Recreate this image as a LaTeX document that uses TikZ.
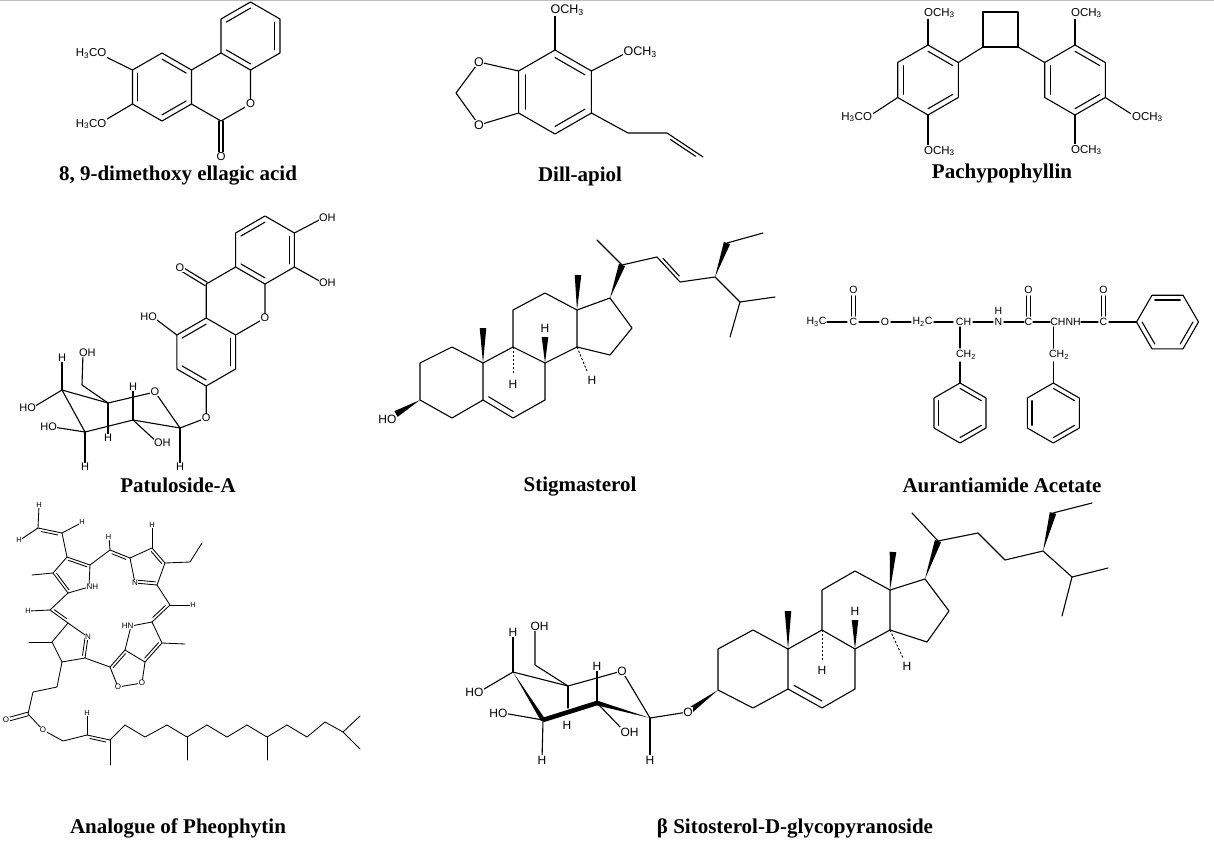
\documentclass[tikz,border=0pt]{standalone}
\usepackage{fontspec}
\setmainfont{Liberation Serif}
\newfontfamily\asf{Liberation Sans}
\usetikzlibrary{calc}
\newcommand{\inb}[3]{\draw ($(#1)!0.18!(#3)$) -- ($(#2)!0.18!(#3)$);}
\newcommand{\dbL}[3]{\draw ($(#1)!#3!90:(#2)$) -- ($(#2)!#3!-90:(#1)$);}
\newcommand{\dbR}[3]{\draw ($(#1)!#3!-90:(#2)$) -- ($(#2)!#3!90:(#1)$);}
\newcommand{\dsL}[3]{\coordinate (tmpa) at ($(#1)!0.15!(#2)$);\coordinate (tmpb) at ($(#2)!0.15!(#1)$);\draw ($(tmpa)!#3!90:(tmpb)$) -- ($(tmpb)!#3!-90:(tmpa)$);}
\newcommand{\dsR}[3]{\coordinate (tmpa) at ($(#1)!0.15!(#2)$);\coordinate (tmpb) at ($(#2)!0.15!(#1)$);\draw ($(tmpa)!#3!-90:(tmpb)$) -- ($(tmpb)!#3!90:(tmpa)$);}
\newcommand{\wdg}[3]{\fill (#1) -- ($(#2)!#3!90:(#1)$) -- ($(#2)!#3!-90:(#1)$) -- cycle;}
\newcommand{\hsh}[2]{\draw[line width=0.9pt,line cap=butt,dash pattern=on 2.2pt off 1.8pt] (#1) -- (#2);}
\tikzset{
  atm/.style={font=\asf\fontsize{#1}{#1}\selectfont, inner sep=0.6pt, fill=white},
  atn/.style={font=\asf\fontsize{#1}{#1}\selectfont, inner sep=0.6pt},
  ttl/.style={font=\bfseries\fontsize{21}{21}\selectfont, inner sep=0pt},
}
\begin{document}
\begin{tikzpicture}[x=1pt,y=-1pt,line width=1.1pt,line join=round,line cap=round]
\useasboundingbox (0,0) rectangle (1214,848);
\fill[white] (0,0) rectangle (1214,848);
\draw[black!25,line width=1.5pt,line cap=butt] (0,0.75) -- (1214,0.75);

% ================= 8,9-dimethoxy ellagic acid
\coordinate (e1) at (250.5,2); \coordinate (e2) at (280,19); \coordinate (e3) at (280,53);
\coordinate (e4) at (250.5,70); \coordinate (e5) at (221,53); \coordinate (e6) at (221,19);
\coordinate (ec1) at (250.5,36);
\coordinate (e7) at (250.5,104); \coordinate (e8) at (221,121); \coordinate (e9) at (191.5,104);
\coordinate (e10) at (191.5,70); \coordinate (e11) at (162,121); \coordinate (e12) at (132.5,104);
\coordinate (e13) at (132.5,70); \coordinate (e14) at (162,53); \coordinate (ec3) at (162,87);
\coordinate (e15) at (221,157);
\draw (e1)--(e2)--(e3)--(e4)--(e5)--(e6)--cycle;
\draw (e4)--(e7)--(e8)--(e9)--(e10)--(e5);
\draw (e10)--(e14)--(e13)--(e12)--(e11)--(e9);
\draw (e13)--(102,55); \draw (e12)--(102,122);
\inb{e1}{e6}{ec1} \inb{e2}{e3}{ec1} \inb{e4}{e5}{ec1}
\inb{e14}{e10}{ec3} \inb{e12}{e13}{ec3} \inb{e9}{e11}{ec3}
\dbL{e8}{e15}{2pt} \dbR{e8}{e15}{2pt}
\node[atm=11.5] (eO1) at (e7) {O};
\node[atm=11.5] (eO2) at (e15) {O};
\node[atm=11.5,anchor=east] (eM1) at (107.5,53.5) {H\textsubscript{3}CO};
\node[atm=11.5,anchor=east] (eM2) at (107.5,124) {H\textsubscript{3}CO};
\node[ttl] (t1) at (178,176) {8, 9-dimethoxy ellagic acid};

% ================= Dill-apiol
\coordinate (d1) at (555,50); \coordinate (d2) at (591.4,71); \coordinate (d3) at (591.4,113);
\coordinate (d4) at (555,134); \coordinate (d5) at (518.6,113); \coordinate (d6) at (518.6,71);
\coordinate (dc) at (555,92);
\coordinate (do1) at (479,62); \coordinate (dch) at (456,93); \coordinate (do2) at (479,125);
\coordinate (dm1) at (555,10); \coordinate (dm2) at (628,52);
\coordinate (da1) at (628,133); \coordinate (da2) at (667,133); \coordinate (da3) at (703,157);
\draw (d1)--(d2)--(d3)--(d4)--(d5)--(d6)--cycle;
\draw (d6)--(do1)--(dch)--(do2)--(d5);
\draw (d1)--(dm1); \draw (d2)--(dm2);
\draw (d3)--(da1)--(da2)--(da3);
\dsR{da2}{da3}{3.5pt}
\inb{d5}{d6}{dc} \inb{d1}{d2}{dc} \inb{d3}{d4}{dc}
\node[atm=12.5] (dO1) at (do1) {O};
\node[atm=12.5] (dO2) at (do2) {O};
\node[atm=12.5,anchor=west] (dM1) at ($(dm1)+(-5.5,0)$) {OCH\textsubscript{3}};
\node[atm=12.5,anchor=west] (dM2) at ($(dm2)+(-5.5,0)$) {OCH\textsubscript{3}};
\node[ttl] (t2) at (580,176) {Dill-apiol};

% ================= Pachypophyllin
\coordinate (p1) at (928,45); \coordinate (p2) at (958.3,62.5); \coordinate (p3) at (958.3,97.5);
\coordinate (p4) at (928,115); \coordinate (p5) at (897.7,97.5); \coordinate (p6) at (897.7,62.5);
\coordinate (pc1) at (928,80);
\coordinate (q1) at (1075,45); \coordinate (q2) at (1105.3,62.5); \coordinate (q3) at (1105.3,97.5);
\coordinate (q4) at (1075,115); \coordinate (q5) at (1044.7,97.5); \coordinate (q6) at (1044.7,62.5);
\coordinate (pc2) at (1075,80);
\coordinate (k1) at (983,12); \coordinate (k2) at (1018,12); \coordinate (k3) at (1018,47); \coordinate (k4) at (983,47);
\coordinate (pa) at (928,13); \coordinate (pb) at (928,151); \coordinate (pd) at (868,117);
\coordinate (qa) at (1075,13); \coordinate (qb) at (1075,150); \coordinate (qd) at (1136,117);
\draw (p1)--(p2)--(p3)--(p4)--(p5)--(p6)--cycle;
\draw (q1)--(q2)--(q3)--(q4)--(q5)--(q6)--cycle;
\draw (k1)--(k2)--(k3)--(k4)--cycle;
\draw (p2)--(k4); \draw (k3)--(q6);
\draw (p1)--(pa); \draw (p4)--(pb); \draw (p5)--(pd);
\draw (q1)--(qa); \draw (q4)--(qb); \draw (q3)--(qd);
\inb{p1}{p2}{pc1} \inb{p5}{p6}{pc1} \inb{p3}{p4}{pc1}
\inb{q1}{q2}{pc2} \inb{q5}{q6}{pc2} \inb{q3}{q4}{pc2}
\node[atm=11.5,anchor=west] (pA) at ($(pa)+(-5.1,0)$) {OCH\textsubscript{3}};
\node[atm=11.5,anchor=west] (pB) at ($(pb)+(-5.1,0)$) {OCH\textsubscript{3}};
\node[atm=11.5,anchor=east] (pD) at ($(pd)+(5.1,0)$) {H\textsubscript{3}CO};
\node[atm=11.5,anchor=west] (qA) at ($(qa)+(-5.1,0)$) {OCH\textsubscript{3}};
\node[atm=11.5,anchor=west] (qB) at ($(qb)+(-5.1,0)$) {OCH\textsubscript{3}};
\node[atm=11.5,anchor=west] (qD) at ($(qd)+(-5.1,0)$) {OCH\textsubscript{3}};
\node[ttl] (t3) at (1002,173) {Pachypophyllin};

% ================= Patuloside-A
\coordinate (t1) at (265,216); \coordinate (t2) at (294.4,233); \coordinate (t3) at (294.4,267);
\coordinate (t4) at (265,284); \coordinate (t5) at (235.6,267); \coordinate (t6) at (235.6,233);
\coordinate (tc1) at (265,250);
\coordinate (t7) at (265,318); \coordinate (t8) at (235.6,335); \coordinate (t9) at (206.2,318);
\coordinate (t10) at (206.2,284);
\coordinate (t11) at (235.6,369); \coordinate (t12) at (206.2,386); \coordinate (t13) at (176.8,369);
\coordinate (t14) at (176.8,335); \coordinate (tc3) at (206.2,352);
\coordinate (tO) at (180,268);
\coordinate (to1) at (323,218); \coordinate (to2) at (323,283); \coordinate (to3) at (153,317);
\coordinate (tg) at (206.2,418);
\coordinate (s1) at (180,428); \coordinate (sO) at (155,392); \coordinate (s5) at (108,403);
\coordinate (s4) at (62,390); \coordinate (s3) at (85,432); \coordinate (s2) at (133,420);
\coordinate (sc) at (82,385); \coordinate (so) at (83,353);
\coordinate (sH4) at (62,358); \coordinate (sHO4) at (32,408); \coordinate (sHO3) at (53,427);
\coordinate (sH3) at (85,467); \coordinate (sH5) at (108,438); \coordinate (sH2) at (133,387);
\coordinate (sOH2) at (158,443); \coordinate (sH1) at (180,467);
\draw (t1)--(t2)--(t3)--(t4)--(t5)--(t6)--cycle;
\draw (t4)--(t7)--(t8)--(t9)--(t10)--(t5);
\draw (t9)--(t14)--(t13)--(t12)--(t11)--(t8);
\draw (t2)--(to1); \draw (t3)--(to2); \draw (t14)--(to3);
\draw (t12)--(tg)--(s1);
\inb{t1}{t6}{tc1} \inb{t2}{t3}{tc1} \inb{t5}{t4}{tc1}
\inb{t9}{t14}{tc3} \inb{t8}{t11}{tc3} \inb{t12}{t13}{tc3}
\dbL{t10}{tO}{2pt} \dbR{t10}{tO}{2pt}
\draw (s1)--(sO)--(s5)--(s4)--(s3)--(s2)--(s1);
\draw (s4)--(sH4); \draw (s4)--(sHO4); \draw (s3)--(sHO3); \draw (s3)--(sH3);
\draw (s5)--(sH5); \draw (s5)--(sc)--(so); \draw (s2)--(sH2); \draw (s2)--(sOH2); \draw (s1)--(sH1);
\node[atm=11] (tL1) at (tO) {O};
\node[atm=11] (tL2) at (t7) {O};
\node[atm=11] (tL3) at (tg) {O};
\node[atm=11] (tL4) at (sO) {O};
\node[atm=11,anchor=west] (tL5) at ($(to1)+(-5,0)$) {OH};
\node[atm=11,anchor=west] (tL6) at ($(to2)+(-5,0)$) {OH};
\node[atm=11,anchor=east] (tL7) at ($(to3)+(5,0)$) {HO};
\node[atm=11] (sL1) at (sH4) {H};
\node[atm=11,anchor=east] (sL2) at ($(sHO4)+(5,0)$) {HO};
\node[atm=11,anchor=east] (sL3) at ($(sHO3)+(5,0)$) {HO};
\node[atm=11] (sL4) at (sH3) {H};
\node[atm=11] (sL5) at (sH5) {H};
\node[atm=11] (sL6) at (sH2) {H};
\node[atm=11,anchor=west] (sL7) at ($(sOH2)+(-5,0)$) {OH};
\node[atm=11] (sL8) at (sH1) {H};
\node[atm=11,anchor=west] (sL9) at ($(so)+(-5,0)$) {OH};
\node[ttl] (t4L) at (178,485) {Patuloside-A};

% ================= Stigmasterol
\coordinate (g1) at (452,347); \coordinate (g2) at (420,363); \coordinate (g3) at (420,400);
\coordinate (g4) at (452,418); \coordinate (g5) at (483,400); \coordinate (g10) at (483,363);
\coordinate (g6) at (513,418); \coordinate (g7) at (545,400); \coordinate (g8) at (545,363);
\coordinate (g9) at (513,347); \coordinate (g11) at (513,310); \coordinate (g12) at (545,293);
\coordinate (g13) at (577,310); \coordinate (g14) at (577,347);
\coordinate (g15) at (610,355); \coordinate (g16) at (632,328); \coordinate (g17) at (610,298);
\coordinate (g18) at (578,275); \coordinate (g19) at (483,328);
\coordinate (gh8) at (545,337); \coordinate (gh9) at (513,374); \coordinate (gh14) at (587,371);
\coordinate (gho) at (396,414); \coordinate (gbc) at (513.7,381.8);
\coordinate (g20) at (622,265); \coordinate (g21) at (597,240); \coordinate (g22) at (657,257);
\coordinate (g23) at (680,282); \coordinate (g24) at (715,277); \coordinate (g28) at (727,243);
\coordinate (g29) at (763,233); \coordinate (g25) at (740,302); \coordinate (g26) at (775,297);
\coordinate (g27) at (730,337);
\draw (g1)--(g2)--(g3)--(g4)--(g5)--(g10)--cycle;
\draw (g5)--(g6)--(g7)--(g8)--(g9)--(g10);
\draw (g9)--(g11)--(g12)--(g13)--(g14)--(g8);
\draw (g13)--(g17)--(g16)--(g15)--(g14);
\inb{g5}{g6}{gbc}
\draw (g20)--(g21); \draw (g20)--(g22)--(g23)--(g24)--(g25)--(g26); \draw (g25)--(g27); \draw (g28)--(g29);
\dsL{g22}{g23}{3.5pt}
\wdg{g10}{g19}{3.3pt} \wdg{g13}{g18}{3.3pt} \wdg{g8}{gh8}{3.3pt}
\wdg{g3}{gho}{3.3pt} \wdg{g17}{g20}{3.3pt} \wdg{g24}{g28}{3.3pt}
\hsh{g9}{gh9} \hsh{g14}{gh14}
\node[atn=12] (gL1) at (545,328.5) {H};
\node[atn=12] (gL2) at (513,384) {H};
\node[atn=12] (gL3) at (592,380) {H};
\node[atn=12,anchor=east] (gL4) at (397.5,419.5) {HO};
\node[ttl] (t5) at (580,487) {Stigmasterol};

% ================= Aurantiamide Acetate
\begin{scope}[every node/.style={atn=10.5}]
\node (a1) at (816.5,322) {H\textsubscript{3}C};
\node (a2) at (853.5,322) {C};
\node (a3) at (853.5,290) {O};
\node (a4) at (885,322) {O};
\node (a5) at (922.5,322) {H\textsubscript{2}C};
\node (a6) at (963.5,322) {CH};
\node (a7) at (998.5,322) {N};
\node (a8) at (998.5,311) {H};
\node (a9) at (1028.5,322) {C};
\node (a10) at (1028.5,290) {O};
\node (a11) at (1065.5,322) {CHNH};
\node (a12) at (1103.5,322) {C};
\node (a13) at (1103.5,290) {O};
\node (a14) at (966,355) {CH\textsubscript{2}};
\node (a15) at (1059,355) {CH\textsubscript{2}};
\end{scope}
\draw (827,322)--(847,322); \draw (859,322)--(879,322); \draw (891,322)--(911,322);
\draw (934,322)--(953,322); \draw (973,322)--(993,322); \draw (1004,322)--(1024,322);
\draw (1033,322)--(1050,322); \draw (1081,322)--(1098,322);
\foreach \cx in {853.5,1028.5,1103.5}{\draw (\cx-2,296)--(\cx-2,316); \draw (\cx+2,296)--(\cx+2,316);}
\coordinate (ar1) at (1136.5,322); \coordinate (ar2) at (1152,295.2); \coordinate (ar3) at (1183,295.2);
\coordinate (ar4) at (1198.5,322); \coordinate (ar5) at (1183,348.8); \coordinate (ar6) at (1152,348.8);
\coordinate (arc) at (1167.5,322);
\draw (1109,322)--(ar1);
\draw (ar1)--(ar2)--(ar3)--(ar4)--(ar5)--(ar6)--cycle;
\inb{ar2}{ar3}{arc} \inb{ar4}{ar5}{arc} \inb{ar6}{ar1}{arc}
\foreach \bx/\nm in {960/b, 1053.3/c}{
  \draw (\bx,327)--(\bx,348); \draw (\bx,362)--(\bx,383);
  \coordinate (\nm1) at (\bx,383); \coordinate (\nm2) at (\bx+26,398); \coordinate (\nm3) at (\bx+26,428);
  \coordinate (\nm4) at (\bx,443); \coordinate (\nm5) at (\bx-26,428); \coordinate (\nm6) at (\bx-26,398);
  \coordinate (\nm0) at (\bx,413);
  \draw (\nm1)--(\nm2)--(\nm3)--(\nm4)--(\nm5)--(\nm6)--cycle;
  \inb{\nm1}{\nm2}{\nm0} \inb{\nm5}{\nm6}{\nm0} \inb{\nm3}{\nm4}{\nm0}
}
\node[ttl] (t6) at (1002,485) {Aurantiamide Acetate};

% ================= Analogue of Pheophytin
\begin{scope}[line width=0.85pt]
\coordinate (hv1) at (38,528); \coordinate (hv2) at (62,533);
\coordinate (hA1) at (67,557); \coordinate (hA4) at (90,565); \coordinate (hNA) at (89,587);
\coordinate (hA3) at (68,593); \coordinate (hA2) at (53,573); \coordinate (hAc) at (73.4,575);
\coordinate (hM1) at (110,550);
\coordinate (hB1) at (130,558); \coordinate (hB2) at (152,548); \coordinate (hB3) at (165,563);
\coordinate (hB4) at (157,585); \coordinate (hNB) at (135,583); \coordinate (hBc) at (147.8,567.4);
\coordinate (hM2) at (170,605);
\coordinate (hC1) at (152,622); \coordinate (hNC) at (131,626); \coordinate (hC2) at (125,650);
\coordinate (hC3) at (145,662); \coordinate (hC4) at (162,643); \coordinate (hCc) at (143,640.6);
\coordinate (hO1) at (142,683); \coordinate (hO2) at (118,687); \coordinate (hX1) at (110,667);
\coordinate (hXc) at (128,670);
\coordinate (hM3) at (50,610);
\coordinate (hD1) at (68,623); \coordinate (hND) at (88,637); \coordinate (hD2) at (85,658);
\coordinate (hD3) at (62,662); \coordinate (hD4) at (52,642); \coordinate (hDc) at (71,644);
\coordinate (hP1) at (57,687); \coordinate (hP2) at (33,692); \coordinate (hP3) at (28,714);
\coordinate (hPO) at (6,720); \coordinate (hPE) at (43,730); \coordinate (hP4) at (63,741);
\coordinate (hP5) at (87,735); \coordinate (hP6) at (110,740);
% vinyl
\draw (hv1)--(39,506); \draw (hv1)--(20,540); \draw (hv2)--(81,523);
\draw (hv1)--(hv2)--(hA1);
\dsR{hv1}{hv2}{2.8pt}
% ring A
\draw (hA1)--(hA4)--(hNA)--(hA3)--(hA2)--cycle;
\inb{hA1}{hA4}{hAc} \inb{hA2}{hA3}{hAc}
\draw (hA2)--(32,575);
% meso 1
\draw (hA4)--(hM1)--(hB1); \draw (hM1)--(109,537);
\dsR{hM1}{hB1}{2.8pt}
% ring B
\draw (hB1)--(hB2)--(hB3)--(hB4)--(hNB)--cycle;
\inb{hB2}{hB3}{hBc} \inb{hB4}{hNB}{hBc}
\draw (hB2)--(152,526); \draw (hB3)--(190,562)--(202,543);
% meso 2
\draw (hB4)--(hM2)--(hC1); \draw (hM2)--(192,605);
\dsR{hM2}{hC1}{2.8pt}
% ring C
\draw (hC1)--(hC4)--(hC3)--(hC2)--(hNC)--cycle;
\inb{hC4}{hC3}{hCc}
\draw (hC4)--(185,644);
% O-O ring
\draw (hC3)--(hO1)--(hO2)--(hX1)--(hC2);
\inb{hX1}{hC2}{hXc}
% meso 3
\draw (hA3)--(hM3)--(hD1); \draw (hM3)--(29,611);
\dsL{hM3}{hD1}{2.8pt}
% ring D
\draw (hD1)--(hND)--(hD2)--(hD3)--(hD4)--cycle;
\inb{hND}{hD2}{hDc}
\draw (hD4)--(29,642); \draw (hD2)--(hX1);
% ester and phytyl chain
\draw (hD3)--(hP1)--(hP2)--(hP3)--(hPE)--(hP4)--(hP5)--(hP6);
\dbL{hP3}{hPO}{1.8pt} \dbR{hP3}{hPO}{1.8pt}
\dsR{hP5}{hP6}{2.8pt}
\draw (hP5)--(87,714);
\draw (hP6)--(110,765);
\draw (hP6)--(125,725)--(145,737)--(167,725)--(187,737)--(207,725)--(227,737)--(247,725)--(267,737)--(287,725)--(307,737)--(325,722)--(343,732)--(360,716);
\draw (343,732)--(360,749);
\draw (187,737)--(187,760); \draw (267,737)--(267,760);
\end{scope}
\node[atm=7.5] (hL1) at (39,505) {H};
\node[atm=7.5] (hL2) at (19,540) {H};
\node[atm=7.5] (hL3) at (82,522) {H};
\node[atm=7.5] (hL4) at (108.5,537) {H};
\node[atm=7.5] (hL5) at (152,525) {H};
\node[atm=7.5] (hL6) at (193,605) {H};
\node[atm=7.5] (hL7) at (28,611) {H};
\node[atm=7.5] (hL8) at (87,713) {H};
\node[atm=8,anchor=west] (hL9) at ($(hNA)+(-3.5,0)$) {NH};
\node[atm=8] (hL10) at (hNB) {N};
\node[atm=8,anchor=east] (hL11) at ($(hNC)+(3.5,0)$) {HN};
\node[atm=8] (hL12) at (hND) {N};
\node[atm=8] (hL13) at (hO1) {O};
\node[atm=8] (hL14) at (hO2) {O};
\node[atm=8] (hL15) at (hPO) {O};
\node[atm=8] (hL16) at (hPE) {O};
\node[ttl] (t7) at (178,828) {Analogue of Pheophytin};

% ================= beta Sitosterol-D-glycopyranoside
\coordinate (u4) at (513,672); \coordinate (u3) at (543,720); \coordinate (u2) at (597,703);
\coordinate (u1) at (650,718); \coordinate (uO) at (622,671); \coordinate (u5) at (568,686);
\coordinate (uc) at (535,665); \coordinate (uoh) at (535,626);
\coordinate (uH4) at (513,632); \coordinate (uHO4) at (479,692); \coordinate (uHO3) at (503,713);
\coordinate (uH3) at (542,760); \coordinate (uH2) at (597,666); \coordinate (uOH2) at (625,732);
\coordinate (uH1) at (650,760); \coordinate (uH5) at (567,725); \coordinate (uOg) at (688,712);
\coordinate (v3) at (718,690); \coordinate (v2) at (718,649); \coordinate (v1) at (753,630);
\coordinate (v10) at (788,649); \coordinate (v5) at (788,689); \coordinate (v4) at (753,708);
\coordinate (v6) at (822,708); \coordinate (v7) at (855,689); \coordinate (v8) at (855,649);
\coordinate (v9) at (822,630); \coordinate (v11) at (822,590); \coordinate (v12) at (855,571);
\coordinate (v13) at (890,590); \coordinate (v14) at (890,630);
\coordinate (v17) at (925,579); \coordinate (v16) at (949,611); \coordinate (v15) at (927,642);
\coordinate (v19) at (788,611); \coordinate (v18) at (893,552);
\coordinate (vh8) at (855,620); \coordinate (vh9) at (822,660); \coordinate (vh14) at (903,658);
\coordinate (vbc) at (821.7,669);
\coordinate (v20) at (938,541); \coordinate (v21) at (912,513); \coordinate (v22) at (978,533);
\coordinate (v23) at (1005,560); \coordinate (v24) at (1043,551); \coordinate (v28) at (1053,513);
\coordinate (v29) at (1092,503); \coordinate (v25) at (1072,577); \coordinate (v26) at (1108,568);
\coordinate (v27) at (1062,616);
% sugar
\draw (u4)--(uH4); \draw (u4)--(uHO4); \draw (u3)--(uHO3); \draw (u3)--(uH3);
\draw (u2)--(uH2); \draw (u2)--(uOH2); \draw (u1)--(uH1);
\draw (u1)--(uO)--(u5)--(u4); \draw (u5)--(568,708); \draw (u5)--(uc)--(uoh);
\draw (u1)--(uOg);
\wdg{u4}{u3}{2.3pt}
\draw[line width=4.6pt,line cap=butt] (u3)--(u2);
\wdg{u1}{u2}{2.3pt}
\wdg{v3}{uOg}{3.3pt}
% steroid
\draw (v1)--(v2)--(v3)--(v4)--(v5)--(v10)--cycle;
\draw (v5)--(v6)--(v7)--(v8)--(v9)--(v10);
\draw (v9)--(v11)--(v12)--(v13)--(v14)--(v8);
\draw (v13)--(v17)--(v16)--(v15)--(v14);
\inb{v5}{v6}{vbc}
\draw (v20)--(v21); \draw (v20)--(v22)--(v23)--(v24)--(v25)--(v26); \draw (v25)--(v27); \draw (v28)--(v29);
\wdg{v10}{v19}{3.3pt} \wdg{v13}{v18}{3.3pt} \wdg{v8}{vh8}{3.3pt}
\wdg{v17}{v20}{3.3pt} \wdg{v24}{v28}{3.3pt}
\hsh{v9}{vh9} \hsh{v14}{vh14}
\node[atm=12] (uL1) at (uH4) {H};
\node[atm=12,anchor=east] (uL2) at ($(uHO4)+(5.5,0)$) {HO};
\node[atm=12,anchor=east] (uL3) at ($(uHO3)+(5.5,0)$) {HO};
\node[atm=12] (uL4) at (uH3) {H};
\node[atm=12] (uL5) at (uH2) {H};
\node[atm=12,anchor=west] (uL6) at ($(uOH2)+(-5.5,0)$) {OH};
\node[atm=12] (uL7) at (uH1) {H};
\node[atm=12] (uL8) at (uH5) {H};
\node[atm=12] (uL9) at (uO) {O};
\node[atm=12] (uL10) at (uOg) {O};
\node[atm=12,anchor=west] (uL11) at ($(uoh)+(-5.5,0)$) {OH};
\node[atn=12] (vL1) at (855,611) {H};
\node[atn=12] (vL2) at (822,670) {H};
\node[atn=12] (vL3) at (907,666) {H};
\node[ttl] (t8) at (795,828) {β Sitosterol-D-glycopyranoside};
\end{tikzpicture}
\end{document}
